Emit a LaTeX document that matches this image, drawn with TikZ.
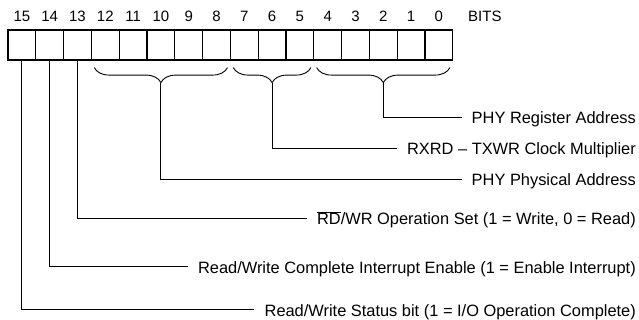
\documentclass[tikz,border=0pt]{standalone}
\usepackage{fontspec}
\setmainfont{Liberation Sans}
\usepackage{tikz}
\usetikzlibrary{fit}
\usetikzlibrary{decorations.pathreplacing}

\tikzset{
	bitbox/.style={draw, line width=1.2pt, inner sep=0pt},
	bitnum/.style={anchor=base, label distance=8pt, inner sep=0pt, font=\fontsize{15}{18}\selectfont},
	desc/.style={anchor=east, inner sep=0pt, text height=14pt, text depth=0pt},
	wire/.style={line width=0.9pt, shorten >=10pt},
	brace/.style={line width=0.9pt, decorate, decoration={brace, mirror, amplitude=15pt}},
	tip/.style={coordinate, yshift=-15pt}
}

\begin{document}
\begin{tikzpicture}[x=1pt, y=-1pt, font=\fontsize{16.4}{19}\selectfont]
	\useasboundingbox (0,0) rectangle (639,320);

	\node[bitbox, fit={(8,30) (35.8,60)}, label={[bitnum]above:15}] (b15) {};	% register boxes
	\node[bitbox, fit={(35.8,30) (63.6,60)}, label={[bitnum]above:14}] (b14) {};
	\node[bitbox, fit={(63.6,30) (91.4,60)}, label={[bitnum]above:13}] (b13) {};
	\node[bitbox, fit={(91.4,30) (119.2,60)}, label={[bitnum]above:12}] (b12) {};
	\node[bitbox, fit={(119.2,30) (147,60)}, label={[bitnum]above:11}] (b11) {};
	\node[bitbox, fit={(147,30) (174.8,60)}, label={[bitnum]above:10}] (b10) {};
	\node[bitbox, fit={(174.8,30) (202.6,60)}, label={[bitnum]above:9}] (b9) {};
	\node[bitbox, fit={(202.6,30) (230.4,60)}, label={[bitnum]above:8}] (b8) {};
	\node[bitbox, fit={(230.4,30) (258.2,60)}, label={[bitnum]above:7}] (b7) {};
	\node[bitbox, fit={(258.2,30) (286,60)}, label={[bitnum]above:6}] (b6) {};
	\node[bitbox, fit={(286,30) (313.8,60)}, label={[bitnum]above:5}] (b5) {};
	\node[bitbox, fit={(313.8,30) (341.6,60)}, label={[bitnum]above:4}] (b4) {};
	\node[bitbox, fit={(341.6,30) (369.4,60)}, label={[bitnum]above:3}] (b3) {};
	\node[bitbox, fit={(369.4,30) (397.2,60)}, label={[bitnum]above:2}] (b2) {};
	\node[bitbox, fit={(397.2,30) (425,60)}, label={[bitnum]above:1}] (b1) {};
	\node[bitbox, fit={(425,30) (452.8,60)}, label={[bitnum]above:0}] (b0) {};

	\node[bitnum, anchor=base west] (bits) at (468,22) {BITS};

	\draw[brace] ([xshift=3.5pt, yshift=-7pt]b12.south west) -- node[tip] (pa) {} ([xshift=-3.5pt, yshift=-7pt]b8.south east);	% field braces
	\draw[brace] ([xshift=3.5pt, yshift=-7pt]b7.south west) -- node[tip] (ck) {} ([xshift=-3.5pt, yshift=-7pt]b5.south east);
	\draw[brace] ([xshift=3.5pt, yshift=-7pt]b4.south west) -- node[tip] (ra) {} ([xshift=-3.5pt, yshift=-7pt]b0.south east);

	\node[desc] (reg) at (636,117) {PHY Register Address};	% descriptions
	\node[desc] (clk) at (636,148) {RXRD -- TXWR Clock Multiplier};
	\node[desc] (phy) at (636,179) {PHY Physical Address};
	\node[desc] (rdwr) at (636,218) {$\overline{\mbox{RD}}$/WR Operation Set (1 = Write, 0 = Read)};
	\node[desc] (irq) at (636,266) {Read/Write Complete Interrupt Enable (1 = Enable Interrupt)};
	\node[desc] (st) at (636,309) {Read/Write Status bit (1 = I/O Operation Complete)};

	\draw[wire] (ra) |- (reg.west);	% leader lines
	\draw[wire] (ck) |- (clk.west);
	\draw[wire] (pa) |- (phy.west);
	\draw[wire] (b13.south) |- (rdwr.west);
	\draw[wire] (b14.south) |- (irq.west);
	\draw[wire] (b15.south) |- (st.west);
\end{tikzpicture}
\end{document}
